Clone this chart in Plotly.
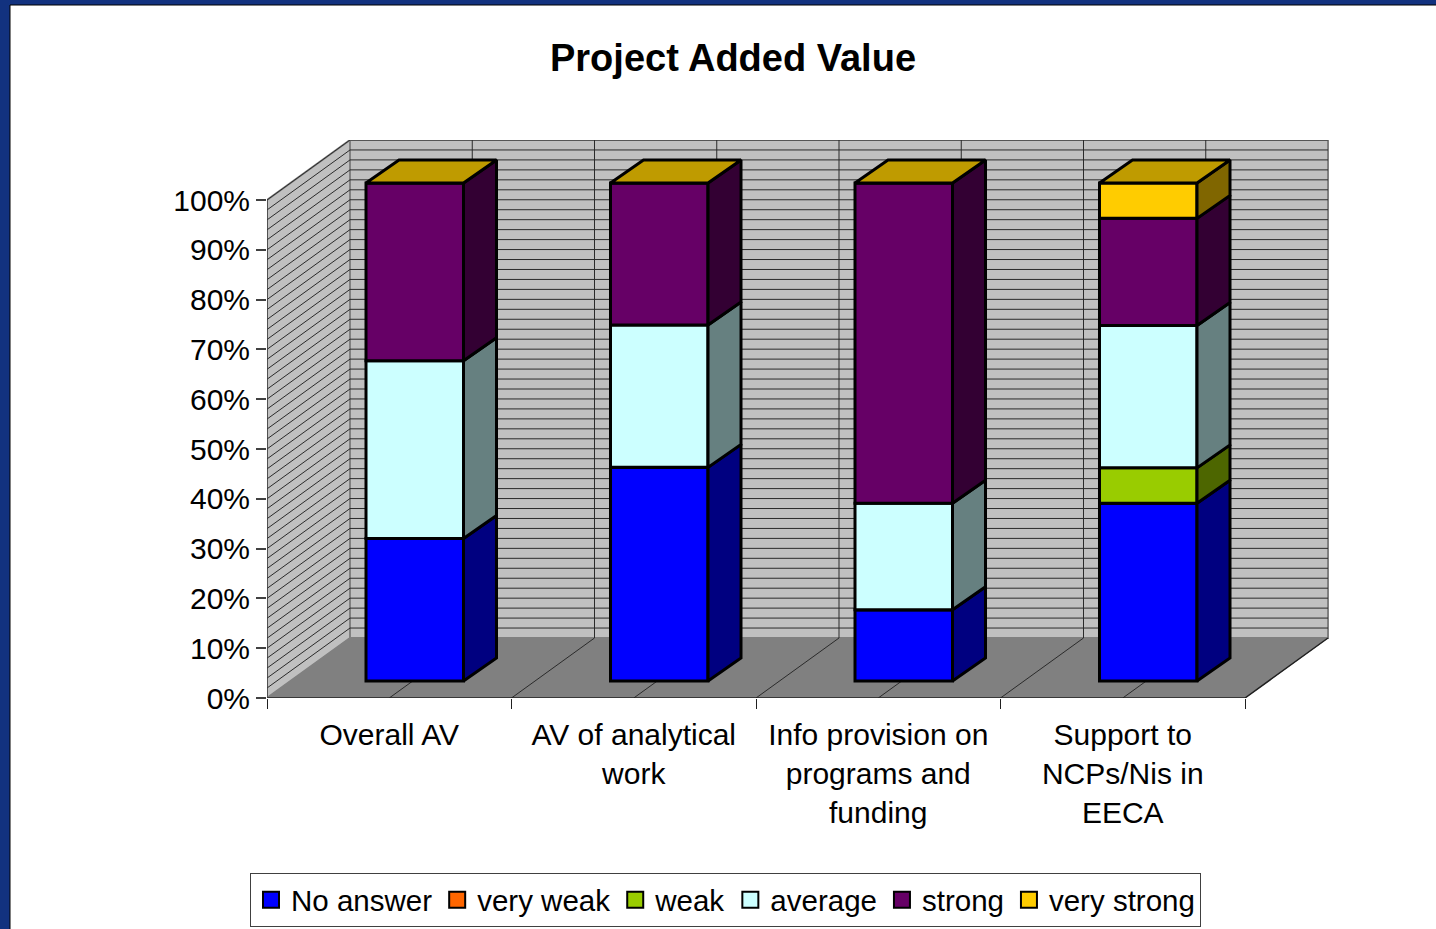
import plotly.graph_objects as go

W, H = 1436, 929

categories = ["Overall AV", "AV of analytical<br>work", "Info provision on<br>programs and<br>funding", "Support to<br>NCPs/Nis in<br>EECA"]
series_names = ["No answer", "very weak", "weak", "average", "strong", "very strong"]
no_answer = [28.6, 42.9, 14.3, 35.7]
very_weak = [0, 0, 0, 0]
weak = [0, 0, 0, 7.1]
average = [35.7, 28.6, 21.4, 28.6]
strong = [35.7, 28.5, 64.3, 21.5]
very_strong = [0, 0, 0, 7.1]
all_values = [no_answer, very_weak, weak, average, strong, very_strong]

front_colors = ["#0000ff", "#ff6600", "#99cc00", "#ccffff", "#660066", "#ffcc00"]
side_colors = ["#000080", "#803300", "#4d6600", "#668080", "#330033", "#806600"]
top_color = "#bf9b00"

y_ticks = list(range(0, 101, 10))
y_tick_labels = [str(v) + "%" for v in y_ticks]

# px per unit of the axes
px_cat = 244.5
px_pct = 4.98
# depth of the box and of the bars, in axis units
box_dx, box_dy = 83 / px_cat, 60 / px_pct
bar_dx, bar_dy = 33 / px_cat, 23 / px_pct
bar_off_x, bar_off_y = 25.5 / px_cat, 17 / px_pct
bar_w = 97.5 / px_cat

x_left, x_right = -0.5, 3.5
x_range = [x_left, x_left + 1063 / px_cat]
y_range = [0, 558 / px_pct]


def lines_trace(xs, ys, color, width):
    return go.Scatter(x=xs, y=ys, mode="lines", line=dict(color=color, width=width),
                      showlegend=False, hoverinfo="skip", xaxis="x", yaxis="y")


def poly_trace(xs, ys, fill, line_color, width, axis="1"):
    return go.Scatter(x=xs, y=ys, mode="lines", fill="toself", fillcolor=fill,
                      line=dict(color=line_color, width=width), showlegend=False, hoverinfo="skip",
                      xaxis="x" if axis == "1" else "x2", yaxis="y" if axis == "1" else "y2")


fig = go.Figure()

# walls and floor
fig.add_trace(poly_trace([x_left, x_left + box_dx, x_left + box_dx, x_left, x_left],
                         [0, box_dy, 100 + box_dy, 100, 0], "#c0c0c0", "#808080", 2))
fig.add_trace(poly_trace([x_left + box_dx, x_right + box_dx, x_right + box_dx, x_left + box_dx, x_left + box_dx],
                         [box_dy, box_dy, 100 + box_dy, 100 + box_dy, box_dy], "#c0c0c0", "#808080", 2))
fig.add_trace(poly_trace([x_left, x_right, x_right + box_dx, x_left + box_dx, x_left],
                         [0, 0, box_dy, box_dy, 0], "#808080", "#808080", 1))

# gridlines on the walls
grid_x, grid_y = [], []
for p in range(2, 101, 2):
    grid_x += [x_left, x_left + box_dx, x_right + box_dx, None]
    grid_y += [p, p + box_dy, p + box_dy, None]
fig.add_trace(lines_trace(grid_x, grid_y, "#2a2a2a", 1))

floor_x, floor_y = [], []
for k in range(1, 8):
    c = x_left + k * 0.5
    floor_x += [c, c + box_dx, c + box_dx, None]
    floor_y += [0, box_dy, 100 + box_dy, None]
fig.add_trace(lines_trace(floor_x, floor_y, "#2a2a2a", 1))
fig.add_trace(lines_trace([x_left, x_right, x_right + box_dx], [0, 0, box_dy], "#202020", 1.5))
fig.add_trace(lines_trace([x_left, x_left], [0, 100], "#404040", 1.5))

# bars, sides and tops
cat_pos = list(range(len(categories)))
bases = [0.0] * len(categories)
for name, vals, front, side in zip(series_names, all_values, front_colors, side_colors):
    seg_base = [b + bar_off_y for b in bases]
    fig.add_trace(go.Bar(x=[c + bar_off_x for c in cat_pos], y=vals, base=seg_base, width=bar_w,
                         marker=dict(color=front, line=dict(color="black", width=3)),
                         showlegend=False, name=name, xaxis="x2", yaxis="y2"))
    sx, sy = [], []
    for c, v, b in zip(cat_pos, vals, seg_base):
        if v == 0:
            continue
        r = c + bar_off_x + bar_w / 2
        sx += [r, r + bar_dx, r + bar_dx, r, r, None]
        sy += [b, b + bar_dy, b + v + bar_dy, b + v, b, None]
    if sx:
        fig.add_trace(poly_trace(sx, sy, side, "black", 3, axis="2"))
    bases = [b + v for b, v in zip(bases, vals)]

tx, ty = [], []
for c, b in zip(cat_pos, bases):
    l = c + bar_off_x - bar_w / 2
    r = l + bar_w
    t = b + bar_off_y
    tx += [l, r, r + bar_dx, l + bar_dx, l, None]
    ty += [t, t, t + bar_dy, t + bar_dy, t, None]
fig.add_trace(poly_trace(tx, ty, top_color, "black", 3, axis="2"))

# legend entries
for name, front in zip(series_names, front_colors):
    fig.add_trace(go.Scatter(x=[None], y=[None], mode="markers", name=name, xaxis="x2", yaxis="y2",
                             marker=dict(symbol="square", size=16, color=front, line=dict(color="black", width=2))))

font = "Liberation Sans, Arial, sans-serif"
fig.update_layout(
    width=W, height=H,
    margin=dict(l=0, r=0, t=0, b=0, autoexpand=False),
    paper_bgcolor="#12327f",
    plot_bgcolor="rgba(0,0,0,0)",
    barmode="overlay",
    font=dict(family=font, size=30, color="black"),
    title=dict(text="<b>Project Added Value</b>", x=733 / W, y=1 - 58 / H, xanchor="center", yanchor="middle",
               font=dict(family=font, size=38, color="black")),
    xaxis=dict(domain=[267 / W, 1330 / W], range=x_range, showgrid=False, zeroline=False, showline=False,
               tickmode="array", tickvals=cat_pos, ticktext=categories, ticks="outside", ticklen=10,
               tickcolor="rgba(0,0,0,0)",
               minor=dict(tickmode="array", tickvals=[-0.5, 0.5, 1.5, 2.5, 3.5], ticks="outside", ticklen=10,
                          tickcolor="#202020", tickwidth=1, showgrid=False)),
    yaxis=dict(domain=[(H - 698) / H, (H - 140) / H], range=y_range, showgrid=False, zeroline=False, showline=False,
               tickmode="array", tickvals=y_ticks, ticktext=y_tick_labels, ticks="outside", ticklen=10,
               tickcolor="#404040", tickwidth=1.5),
    xaxis2=dict(domain=[267 / W, 1330 / W], range=x_range, overlaying="x", visible=False, anchor="y2"),
    yaxis2=dict(domain=[(H - 698) / H, (H - 140) / H], range=y_range, overlaying="y", visible=False, anchor="x2"),
    legend=dict(orientation="h", x=250 / W, xanchor="left", y=1 - 873 / H, yanchor="top",
                bgcolor="white", bordercolor="#404040", borderwidth=1, font=dict(family=font, size=29.5)),
    shapes=[dict(type="rect", xref="paper", yref="paper", x0=10 / W, x1=1.01, y0=-0.01, y1=1 - 5 / H,
                 fillcolor="white", line=dict(color="black", width=1), layer="below")],
)

fig.write_html("out.html", config=dict(displayModeBar=False), post_script="document.body.style.margin='0';")
